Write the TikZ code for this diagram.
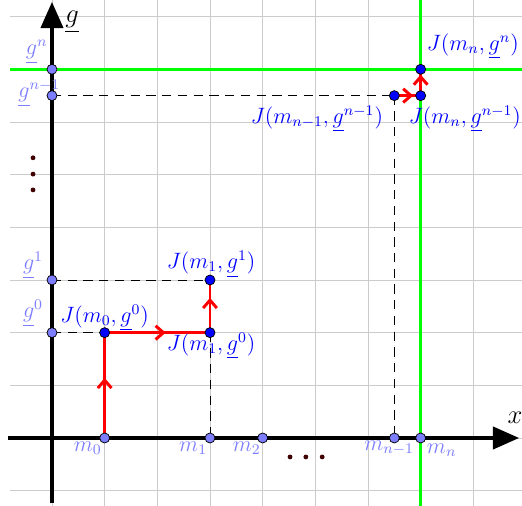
\documentclass[tikz,border=0pt]{standalone}
\usepackage{amsmath,amssymb}
\usepackage{tikz}
\usetikzlibrary{arrows.meta, positioning, decorations.markings}
\usepackage{xcolor}
\definecolor{ptblue}{RGB}{0,0,255}
\definecolor{axblue}{RGB}{125,125,255}
\definecolor{dotbrown}{RGB}{64,0,0}
\newcommand{\ug}{\underline{g}}

\begin{document}
\begin{tikzpicture}[
    % Grid
    gridline/.style={gray!40, line width=0.5pt},
    % Axes
    axisline/.style={line width=2.2pt, -{Triangle[length=5mm, width=4.2mm]}},
    % Green bounds
    boundline/.style={green, line width=1.6pt},
    % Dashed helper lines
    helperline/.style={dash pattern=on 5pt off 3.5pt, line width=0.5pt},
    % Red step arrows
    steparr/.style={red, line width=1.6pt, postaction={decorate},
      decoration={markings, mark=at position #1 with
        {\arrow{Straight Barb[length=1.5mm, width=2.6mm]}}}},
    steparr/.default=0.58,
    % Points
    jdot/.style={circle, draw=black, fill=ptblue, line width=0.4pt,
      inner sep=0pt, minimum size=0.19cm},
    axdot/.style={jdot, fill=axblue},
    % Labels
    jlbl/.style={text=ptblue, font=\large, inner sep=0pt},
    axlbl/.style={text=axblue, font=\large, inner sep=0pt}
  ]
  \useasboundingbox (-0.987,-1.291) rectangle (8.924,8.316);

  % ============ Grid ============
  \draw[gridline] (-0.8,-1.3) grid (8.95,8.35);

  % ============ Bounds ============
  \draw[boundline] (-0.8,7) -- (8.95,7);
  \draw[boundline] (7,-1.3) -- (7,8.35);

  % ============ Axes ============
  \draw[axisline] (-0.83,0) -- (8.87,0);
  \draw[axisline] (0,-1.24) -- (0,8.28);
  \node[font=\Large] (xlbl) at (8.79,0.38) {$x$};
  \node[font=\Large] (glbl) at (0.38,7.90) {$\ug$};

  % ============ Points ============
  \coordinate (m0) at (1,0);
  \coordinate (m1) at (3,0);
  \coordinate (m2) at (4,0);
  \coordinate (mn1) at (6.5,0);
  \coordinate (mn) at (7,0);
  \coordinate (g0) at (0,2);
  \coordinate (g1) at (0,3);
  \coordinate (gn1) at (0,6.5);
  \coordinate (gn) at (0,7);
  \coordinate (j00) at (1,2);
  \coordinate (j10) at (3,2);
  \coordinate (j11) at (3,3);
  \coordinate (jn1n1) at (6.5,6.5);
  \coordinate (jnn1) at (7,6.5);
  \coordinate (jnn) at (7,7);

  % ============ Dashed helpers ============
  \draw[helperline] (g0) -- (j00);
  \draw[helperline] (g1) -- (j11);
  \draw[helperline] (j10) -- (m1);
  \draw[helperline] (gn1) -- (jn1n1);
  \draw[helperline] (jn1n1) -- (mn1);

  % ============ Red steps ============
  \draw[steparr=0.57] (m0) -- (j00);
  \draw[steparr] (j00) -- (j10);
  \draw[steparr=0.66] (j10) -- (j11);
  \draw[steparr=0.72] (jn1n1) -- (jnn1);
  \draw[steparr=0.8] (jnn1) -- (jnn);

  % ============ Dots on axes and nodes ============
  \foreach \p in {m0,m1,m2,mn1,mn,g0,g1,gn1,gn}
    \node[axdot] (\p dot) at (\p) {};
  \foreach \p in {j00,j10,j11,jn1n1,jnn1,jnn}
    \node[jdot] (\p dot) at (\p) {};

  % ============ Ellipses ============
  \foreach \yy in {4.71,5.01,5.32}
    \fill[dotbrown] (-0.36,\yy) circle (1.3pt);
  \foreach \xx in {4.52,4.82,5.13}
    \fill[dotbrown] (\xx,-0.36) circle (1.3pt);

  % ============ Labels ============
  \node[axlbl, xshift=-0.32cm, yshift=-0.19cm] (m0lbl) at (m0) {$m_0$};
  \node[axlbl, xshift=-0.32cm, yshift=-0.19cm] (m1lbl) at (m1) {$m_1$};
  \node[axlbl, xshift=-0.30cm, yshift=-0.19cm] (m2lbl) at (m2) {$m_2$};
  \node[axlbl, xshift=-0.10cm, yshift=-0.19cm] (mn1lbl) at (mn1) {$m_{n-1}$};
  \node[axlbl, xshift=0.40cm, yshift=-0.23cm] (mnlbl) at (mn) {$m_n$};
  \node[axlbl, xshift=-0.36cm, yshift=0.37cm] (g0lbl) at (g0) {$\ug^0$};
  \node[axlbl, xshift=-0.36cm, yshift=0.28cm] (g1lbl) at (g1) {$\ug^1$};
  \node[axlbl, xshift=-0.24cm, yshift=0.04cm] (gn1lbl) at (gn1) {$\ug^{n-1}$};
  \node[axlbl, xshift=-0.29cm, yshift=0.33cm] (gnlbl) at (gn) {$\ug^n$};
  \node[jlbl, yshift=0.28cm] (j00lbl) at (j00) {$J(m_0, \ug^0)$};
  \node[jlbl, xshift=0.02cm, yshift=-0.25cm] (j10lbl) at (j10) {$J(m_1, \ug^0)$};
  \node[jlbl, xshift=0.02cm, yshift=0.30cm] (j11lbl) at (j11) {$J(m_1, \ug^1)$};
  \node[jlbl, xshift=-1.47cm, yshift=-0.44cm] (jn1n1lbl) at (jn1n1) {$J(m_{n-1}, \ug^{n-1})$};
  \node[jlbl, xshift=0.84cm, yshift=-0.44cm] (jnn1lbl) at (jnn1) {$J(m_n, \ug^{n-1})$};
  \node[jlbl, xshift=0.99cm, yshift=0.44cm] (jnnlbl) at (jnn) {$J(m_n, \ug^n)$};

\end{tikzpicture}
\end{document}
